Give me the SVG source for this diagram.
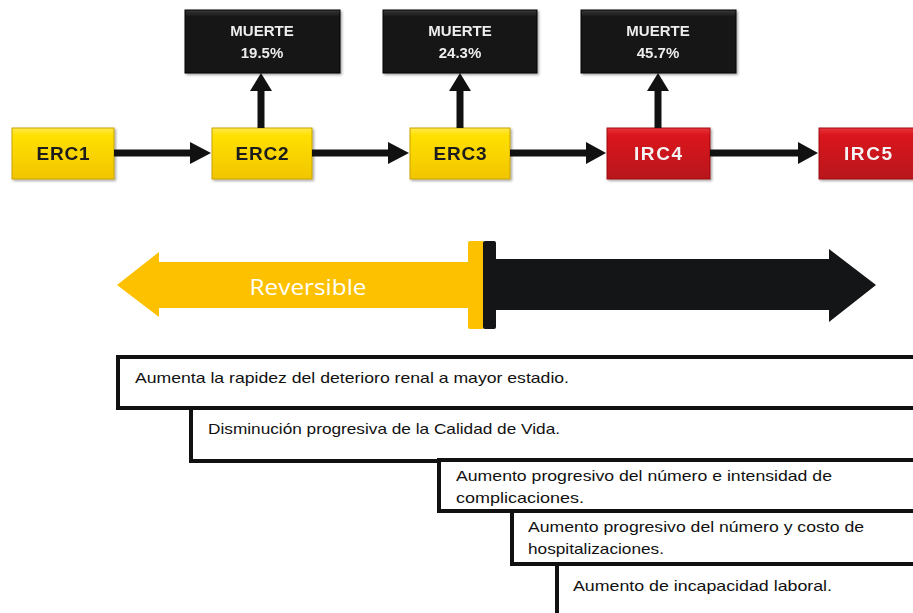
<svg xmlns="http://www.w3.org/2000/svg" width="913" height="613" viewBox="0 0 913 613">
<defs>
<linearGradient id="gy" x1="0" y1="0" x2="0" y2="1">
<stop offset="0" stop-color="#FFE94A"/><stop offset="0.15" stop-color="#FFE000"/><stop offset="1" stop-color="#F2C500"/>
</linearGradient>
<linearGradient id="gr" x1="0" y1="0" x2="0" y2="1">
<stop offset="0" stop-color="#E8333A"/><stop offset="0.15" stop-color="#D9141C"/><stop offset="1" stop-color="#B8121A"/>
</linearGradient>
<linearGradient id="gb" x1="0" y1="0" x2="0" y2="1">
<stop offset="0" stop-color="#3a3a3a"/><stop offset="0.1" stop-color="#161616"/><stop offset="1" stop-color="#121212"/>
</linearGradient>
<filter id="sh" x="-10%" y="-10%" width="130%" height="130%">
<feDropShadow dx="1.5" dy="1.5" stdDeviation="1" flood-color="#000" flood-opacity="0.35"/>
</filter>
</defs>
<style>
.ny{fill:url(#gy);stroke:#C9A200;stroke-width:1}
.nr{fill:url(#gr);stroke:#9E0F14;stroke-width:1}
.nb{fill:url(#gb);stroke:#000;stroke-width:1}
.lab{font-family:"Liberation Sans",Arial,sans-serif;font-weight:bold;font-size:19px;text-anchor:middle}
.mt{font-family:"Liberation Sans",Arial,sans-serif;font-weight:bold;font-size:15px;fill:#EDEDED;text-anchor:middle}
.ln{stroke:#111;stroke-width:7;fill:none}
.hd{fill:#111}
.bx{fill:#fff;stroke:#111;stroke-width:4}
.bt{font-family:"Liberation Sans",Arial,sans-serif;font-size:14.5px;fill:#111}
</style>

<g id="muerte1" filter="url(#sh)"><rect class="nb" x="185" y="10" width="155" height="63"/><text class="mt" x="262" y="36">MUERTE</text><text class="mt" x="262" y="58">19.5%</text></g>
<g id="muerte2" filter="url(#sh)"><rect class="nb" x="383" y="10" width="154" height="63"/><text class="mt" x="460" y="36">MUERTE</text><text class="mt" x="460" y="58">24.3%</text></g>
<g id="muerte3" filter="url(#sh)"><rect class="nb" x="581" y="10" width="155" height="63"/><text class="mt" x="658" y="36">MUERTE</text><text class="mt" x="658" y="58">45.7%</text></g>

<g id="erc1" filter="url(#sh)"><rect class="ny" x="12" y="128" width="102" height="51"/><text class="lab" x="63" y="160" fill="#1a1a1a" textLength="53" lengthAdjust="spacing">ERC1</text></g>
<g id="erc2" filter="url(#sh)"><rect class="ny" x="212" y="128" width="100" height="51"/><text class="lab" x="262" y="160" fill="#1a1a1a" textLength="53" lengthAdjust="spacing">ERC2</text></g>
<g id="erc3" filter="url(#sh)"><rect class="ny" x="410" y="128" width="100" height="51"/><text class="lab" x="460" y="160" fill="#1a1a1a" textLength="53" lengthAdjust="spacing">ERC3</text></g>
<g id="irc4" filter="url(#sh)"><rect class="nr" x="607" y="128" width="103" height="51"/><text class="lab" x="658" y="160" fill="#F4F4F4" textLength="48" lengthAdjust="spacing">IRC4</text></g>
<g id="irc5" filter="url(#sh)"><rect class="nr" x="819" y="128" width="110" height="51"/><text class="lab" x="868" y="160" fill="#F4F4F4" textLength="48" lengthAdjust="spacing">IRC5</text></g>

<g id="connectors">
<line class="ln" x1="114" y1="153" x2="192" y2="153"/><polygon class="hd" points="190,142 211,153 190,164"/>
<line class="ln" x1="312" y1="153" x2="390" y2="153"/><polygon class="hd" points="388,142 409,153 388,164"/>
<line class="ln" x1="510" y1="153" x2="588" y2="153"/><polygon class="hd" points="586,142 606,153 586,164"/>
<line class="ln" x1="710" y1="153" x2="800" y2="153"/><polygon class="hd" points="798,142 818,153 798,164"/>
<line class="ln" x1="261" y1="128" x2="261" y2="88"/><polygon class="hd" points="250,91 261,73 272,91"/>
<line class="ln" x1="460" y1="128" x2="460" y2="88"/><polygon class="hd" points="449,91 460,73 471,91"/>
<line class="ln" x1="658" y1="128" x2="658" y2="88"/><polygon class="hd" points="647,91 658,73 669,91"/>
</g>

<g id="reversible">
<polygon fill="#FDC100" points="117,285 159,252 159,262 470,262 470,308 159,308 159,317"/>
<rect x="468" y="241" width="16" height="88" rx="2" fill="#FDC100"/>
<text x="308" y="295" font-family="'Open Sans','Liberation Sans',sans-serif" font-size="22" fill="#FFFFFF" text-anchor="middle" textLength="117" lengthAdjust="spacingAndGlyphs">Reversible</text>
</g>
<g id="irreversible">
<polygon fill="#141517" points="494,259 829,259 829,249 876,285 829,322 829,310 494,310"/>
<rect x="483" y="241" width="13" height="88" rx="2" fill="#141517"/>
</g>

<g id="box1"><rect class="bx" x="118" y="357" width="820" height="51"/><text class="bt" x="135" y="383" textLength="434" lengthAdjust="spacingAndGlyphs">Aumenta la rapidez del deterioro renal a mayor estadio.</text></g>
<g id="box2"><rect class="bx" x="191" y="408" width="750" height="53"/><text class="bt" x="208" y="434" textLength="352" lengthAdjust="spacingAndGlyphs">Disminución progresiva de la Calidad de Vida.</text></g>
<g id="box3"><rect class="bx" x="439" y="460" width="500" height="51"/><text class="bt" x="456" y="481" textLength="376" lengthAdjust="spacingAndGlyphs">Aumento progresivo del número e intensidad de</text><text class="bt" x="456" y="503" textLength="128" lengthAdjust="spacingAndGlyphs">complicaciones.</text></g>
<g id="box4"><rect class="bx" x="512" y="511" width="420" height="53"/><text class="bt" x="528" y="532" textLength="336" lengthAdjust="spacingAndGlyphs">Aumento progresivo del número y costo de</text><text class="bt" x="528" y="554" textLength="136" lengthAdjust="spacingAndGlyphs">hospitalizaciones.</text></g>
<g id="box5"><rect class="bx" x="557" y="564" width="400" height="70"/><text class="bt" x="573" y="591" textLength="259" lengthAdjust="spacingAndGlyphs">Aumento de incapacidad laboral.</text></g>
</svg>
